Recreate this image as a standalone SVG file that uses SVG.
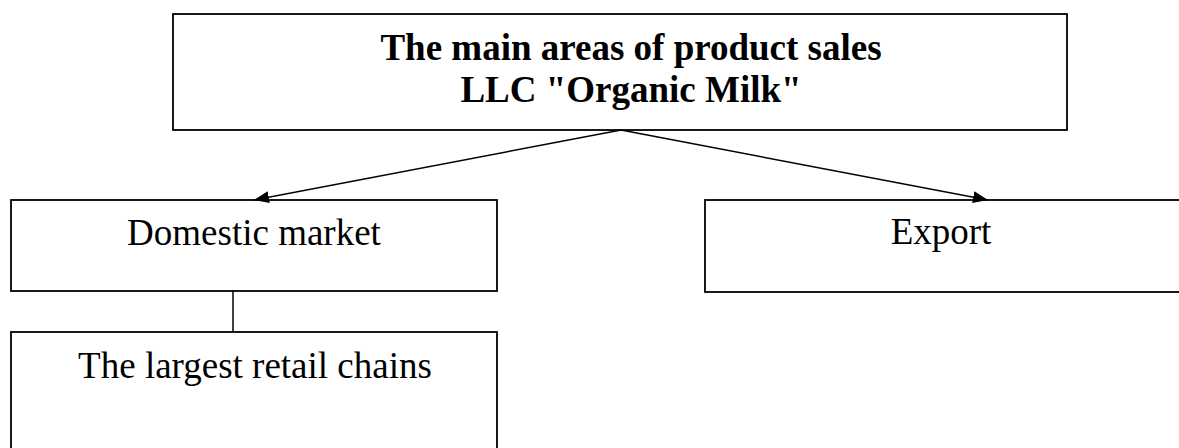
<svg xmlns="http://www.w3.org/2000/svg" width="1179" height="448" viewBox="0 0 1179 448">
  <style>
    .box { fill: #ffffff; stroke: #000000; stroke-width: 1.8; }
    .lbl { font-family: "Liberation Serif", "Times New Roman", serif; font-size: 37px; fill: #000000; text-anchor: middle; }
    .bold { font-weight: bold; }
    .link { fill: none; stroke: #000000; stroke-width: 1.5; }
  </style>
  <defs>
    <marker id="arrow" markerUnits="userSpaceOnUse" markerWidth="16" markerHeight="12" refX="15" refY="6" orient="auto">
      <path d="M0,0 L15,6 L0,12 Z" fill="#000000"/>
    </marker>
  </defs>

  <rect width="1179" height="448" fill="#ffffff"/>

  <g id="node-root">
    <rect class="box" x="173" y="14" width="894" height="116"/>
    <text class="lbl bold" x="631" y="60">The main areas of product sales</text>
    <text class="lbl bold" x="631" y="102">LLC "Organic Milk"</text>
  </g>

  <g id="node-domestic">
    <rect class="box" x="11" y="200" width="486" height="91"/>
    <text class="lbl" x="254" y="245">Domestic market</text>
  </g>

  <g id="node-export">
    <rect class="box" x="705" y="200" width="480" height="92"/>
    <text class="lbl" x="941" y="244">Export</text>
  </g>

  <g id="node-retail">
    <rect class="box" x="11" y="332" width="486" height="130"/>
    <text class="lbl" x="255" y="378">The largest retail chains</text>
  </g>

  <g id="connectors">
    <line class="link" x1="621" y1="130" x2="254" y2="200" marker-end="url(#arrow)"/>
    <line class="link" x1="621" y1="130" x2="988" y2="200" marker-end="url(#arrow)"/>
    <line class="link" x1="233" y1="291" x2="233" y2="332"/>
  </g>
</svg>
